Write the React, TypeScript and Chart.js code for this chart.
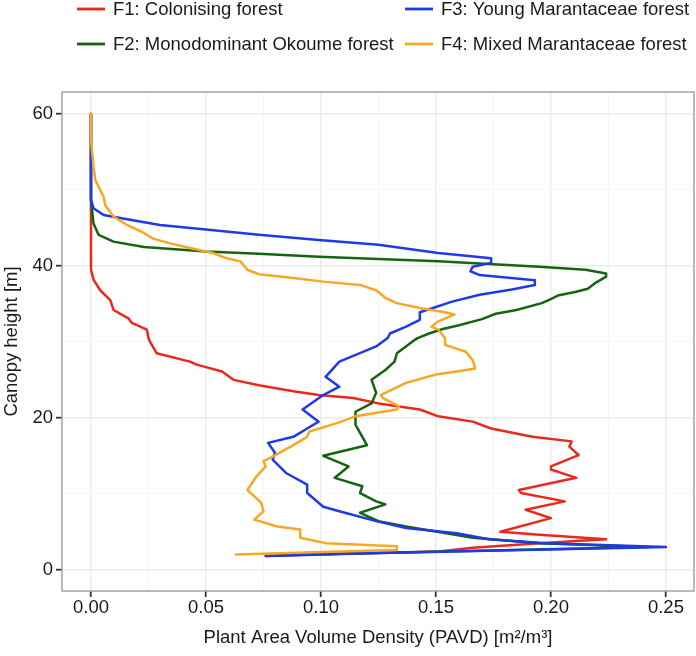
import React, { useEffect, useRef } from 'react';
import { Chart, registerables } from 'chart.js';

Chart.register(...registerables);

const FONT = '"Liberation Sans", Arial, Helvetica, sans-serif';

const seriesLabels = [
  'F1: Colonising forest',
  'F2: Monodominant Okoume forest',
  'F3: Young Marantaceae forest',
  'F4: Mixed Marantaceae forest',
];
const seriesColors = ['rgb(232,41,28)', 'rgb(20,100,18)', 'rgb(30,58,232)', 'rgb(246,168,36)'];

const xTickValues = [0, 0.025, 0.05, 0.075, 0.1, 0.125, 0.15, 0.175, 0.2, 0.225, 0.25];
const xMajorTicks = [0, 0.05, 0.1, 0.15, 0.2, 0.25];
const yTickValues = [0, 10, 20, 30, 40, 50, 60];
const yMajorTicks = [0, 20, 40, 60];

// F1: Colonising forest
const f1Height = [60, 39.5, 38.2, 36.8, 35.5, 34.2, 33.1, 32.5, 31.6, 30.5, 30.0, 28.5, 27.4, 27.0, 26.1, 25.0, 24.3, 23.5, 23.0, 22.6, 21.9, 21.5, 21.1, 20.2, 19.5, 18.6, 17.5, 16.9, 16.2, 15.1, 13.6, 13.2, 12.1, 10.5, 10.1, 9.0, 7.9, 6.8, 5.0, 4.6, 4.0, 3.5, 2.9, 2.4, 2.1, 1.8];
const f1Pavd = [0, 0, 0.0011, 0.004, 0.0084, 0.0098, 0.0163, 0.0178, 0.0243, 0.025, 0.0257, 0.0286, 0.043, 0.046, 0.057, 0.062, 0.073, 0.088, 0.099, 0.114, 0.125, 0.134, 0.143, 0.151, 0.166, 0.174, 0.192, 0.209, 0.208, 0.212, 0.2, 0.2, 0.211, 0.186, 0.187, 0.206, 0.189, 0.2, 0.178, 0.195, 0.224, 0.195, 0.166, 0.151, 0.108, 0.076];

// F2: Monodominant Okoume forest
const f2Height = [60, 48.7, 45.6, 44.1, 43.2, 42.5, 41.9, 41.6, 41.2, 40.9, 40.6, 39.9, 39.5, 39.0, 38.6, 37.7, 37.0, 36.6, 36.1, 35.5, 35.1, 34.2, 33.7, 33.0, 32.2, 31.7, 31.1, 30.5, 30.3, 28.5, 27.4, 26.3, 25.0, 23.3, 21.9, 20.8, 19.1, 16.4, 15.0, 13.6, 12.1, 11.0, 10.1, 9.0, 8.6, 7.5, 6.4, 5.7, 4.2, 3.5, 3.0, 2.2, 1.9];
const f2Pavd = [0, 0, 0.0011, 0.0033, 0.0098, 0.023, 0.05, 0.073, 0.099, 0.125, 0.151, 0.195, 0.215, 0.224, 0.224, 0.219, 0.216, 0.211, 0.203, 0.199, 0.196, 0.185, 0.176, 0.17, 0.16, 0.153, 0.147, 0.142, 0.141, 0.133, 0.132, 0.128, 0.122, 0.124, 0.122, 0.115, 0.115, 0.12, 0.101, 0.112, 0.106, 0.118, 0.117, 0.124, 0.128, 0.117, 0.125, 0.137, 0.166, 0.195, 0.242, 0.125, 0.082];

// F3: Young Marantaceae forest
const f3Height = [60, 56.6, 48.7, 47.6, 46.7, 46.3, 45.4, 44.8, 44.1, 43.4, 42.8, 41.7, 41.0, 40.4, 39.9, 39.3, 38.8, 38.1, 37.5, 36.9, 36.2, 35.3, 34.2, 33.9, 32.9, 32.0, 31.1, 30.5, 29.4, 27.4, 25.4, 24.1, 23.0, 21.1, 19.5, 18.6, 17.5, 16.7, 15.4, 14.5, 12.7, 11.2, 10.1, 8.3, 7.7, 6.4, 5.5, 4.8, 4.0, 3.5, 3.0, 2.2, 1.8];
const f3Pavd = [0, 0, 0, 0.0011, 0.0055, 0.0127, 0.03, 0.05, 0.073, 0.099, 0.125, 0.151, 0.174, 0.174, 0.166, 0.165, 0.169, 0.193, 0.193, 0.183, 0.169, 0.157, 0.146, 0.143, 0.143, 0.137, 0.13, 0.129, 0.124, 0.108, 0.102, 0.108, 0.101, 0.092, 0.099, 0.094, 0.088, 0.077, 0.08, 0.079, 0.085, 0.094, 0.094, 0.101, 0.108, 0.124, 0.137, 0.159, 0.173, 0.198, 0.25, 0.125, 0.076];

// F4: Mixed Marantaceae forest
const f4Height = [60, 56.6, 53.1, 51.3, 49.1, 48.0, 46.5, 45.4, 44.5, 43.6, 43.0, 42.3, 41.7, 41.0, 40.6, 39.5, 38.9, 38.4, 37.9, 37.5, 36.8, 35.8, 35.1, 34.4, 33.9, 33.6, 32.7, 32.0, 31.6, 30.5, 29.6, 28.7, 27.6, 26.5, 26.1, 25.7, 24.6, 23.0, 22.6, 21.5, 21.1, 20.2, 19.3, 18.2, 17.5, 16.4, 14.9, 14.3, 13.6, 12.3, 10.5, 9.4, 8.8, 7.7, 6.6, 5.7, 5.3, 4.2, 3.5, 3.2, 3.1, 2.6, 2.4, 2.0];
const f4Pavd = [0, 0, 0.0011, 0.0019, 0.0055, 0.0062, 0.0098, 0.0156, 0.022, 0.027, 0.034, 0.044, 0.053, 0.059, 0.065, 0.068, 0.073, 0.088, 0.102, 0.117, 0.124, 0.128, 0.133, 0.144, 0.154, 0.158, 0.151, 0.148, 0.151, 0.154, 0.154, 0.163, 0.166, 0.167, 0.159, 0.15, 0.137, 0.126, 0.127, 0.134, 0.133, 0.115, 0.107, 0.095, 0.094, 0.088, 0.079, 0.075, 0.076, 0.072, 0.068, 0.072, 0.074, 0.075, 0.071, 0.081, 0.091, 0.091, 0.102, 0.125, 0.133, 0.133, 0.108, 0.063];

const seriesHeights = [f1Height, f2Height, f3Height, f4Height];
const seriesPavd = [f1Pavd, f2Pavd, f3Pavd, f4Pavd];

const isIn = (v: number, arr: number[]) => arr.some((a) => Math.abs(a - v) < 1e-9);

const legendPositions = [
  { x: 77, y: 9 },
  { x: 77, y: 44 },
  { x: 405, y: 9 },
  { x: 405, y: 44 },
];

const panelPlugin = {
  id: 'panelAndLegend',
  afterDraw(chart: any) {
    const { ctx, chartArea } = chart;
    ctx.save();
    ctx.strokeStyle = '#a3a3a3';
    ctx.lineWidth = 1.5;
    ctx.strokeRect(chartArea.left, chartArea.top, chartArea.right - chartArea.left, chartArea.bottom - chartArea.top);
    // legend
    ctx.font = `18.5px ${FONT}`;
    ctx.textBaseline = 'middle';
    ctx.textAlign = 'left';
    seriesLabels.forEach((label, i) => {
      const p = legendPositions[i];
      ctx.strokeStyle = seriesColors[i];
      ctx.lineWidth = 2.8;
      ctx.beginPath();
      ctx.moveTo(p.x, p.y);
      ctx.lineTo(p.x + 28, p.y);
      ctx.stroke();
      ctx.fillStyle = '#1a1a1a';
      ctx.fillText(label, p.x + 36, p.y + 1);
    });
    ctx.restore();
  },
};

export default function App() {
  const canvasRef = useRef<HTMLCanvasElement | null>(null);

  useEffect(() => {
    if (!canvasRef.current) return;
    const datasets = seriesLabels.map((label, i) => ({
      label,
      data: seriesHeights[i].map((h, j) => ({ x: seriesPavd[i][j], y: h })),
      borderColor: seriesColors[i],
      backgroundColor: seriesColors[i],
      borderWidth: 2.5,
      showLine: true,
      pointRadius: 0,
      pointHoverRadius: 0,
      tension: 0,
      fill: false,
      order: seriesLabels.length - i,
      borderJoinStyle: 'round' as const,
      borderCapStyle: 'round' as const,
    }));

    const chart = new Chart(canvasRef.current, {
      type: 'scatter',
      data: { datasets },
      options: {
        animation: false,
        responsive: false,
        events: [],
        layout: { padding: { top: 92, right: 2, left: 0, bottom: 0 } },
        plugins: {
          legend: { display: false },
          tooltip: { enabled: false },
        },
        scales: {
          x: {
            type: 'linear',
            min: -0.0126,
            max: 0.2622,
            afterBuildTicks: (scale: any) => {
              scale.ticks = xTickValues.map((v) => ({ value: v }));
            },
            afterFit: (scale: any) => {
              scale.height = 65;
            },
            border: { display: false },
            grid: {
              color: (c: any) => (isIn(c.tick?.value, xMajorTicks) ? '#ebebeb' : '#f5f5f5'),
              lineWidth: (c: any) => (isIn(c.tick?.value, xMajorTicks) ? 1.4 : 0.9),
              tickColor: (c: any) => (isIn(c.tick?.value, xMajorTicks) ? '#333333' : 'rgba(0,0,0,0)'),
              tickLength: 6,
              tickWidth: 1.8,
              drawTicks: true,
            },
            ticks: {
              autoSkip: false,
              maxRotation: 0,
              padding: 2,
              color: '#1a1a1a',
              font: { family: FONT, size: 18.5, lineHeight: 1 },
              callback: (v: any) => (isIn(Number(v), xMajorTicks) ? Number(v).toFixed(2) : ''),
            },
            title: {
              display: true,
              text: 'Plant Area Volume Density (PAVD) [m²/m³]',
              color: '#1a1a1a',
              font: { family: FONT, size: 18.5 },
              padding: { top: 0, bottom: 7 },
            },
          },
          y: {
            type: 'linear',
            min: -2.8,
            max: 62.9,
            afterBuildTicks: (scale: any) => {
              scale.ticks = yTickValues.map((v) => ({ value: v }));
            },
            afterFit: (scale: any) => {
              scale.width = 62;
            },
            border: { display: false },
            grid: {
              color: (c: any) => (isIn(c.tick?.value, yMajorTicks) ? '#ebebeb' : '#f5f5f5'),
              lineWidth: (c: any) => (isIn(c.tick?.value, yMajorTicks) ? 1.4 : 0.9),
              tickColor: (c: any) => (isIn(c.tick?.value, yMajorTicks) ? '#333333' : 'rgba(0,0,0,0)'),
              tickLength: 6,
              tickWidth: 1.8,
              drawTicks: true,
            },
            ticks: {
              autoSkip: false,
              padding: 3,
              color: '#1a1a1a',
              font: { family: FONT, size: 18.5 },
              callback: (v: any) => (isIn(Number(v), yMajorTicks) ? String(v) : ''),
            },
            title: {
              display: true,
              text: 'Canopy height [m]',
              color: '#1a1a1a',
              font: { family: FONT, size: 18.5 },
              padding: { top: 1, bottom: 0 },
            },
          },
        },
      },
      plugins: [panelPlugin],
    });
    return () => chart.destroy();
  }, []);

  return (
    <div style={{ position: 'absolute', left: 0, top: 0, width: 696, height: 656, background: '#ffffff' }}>
      <canvas ref={canvasRef} width={696} height={656} style={{ display: 'block', width: 696, height: 656 }} />
    </div>
  );
}
